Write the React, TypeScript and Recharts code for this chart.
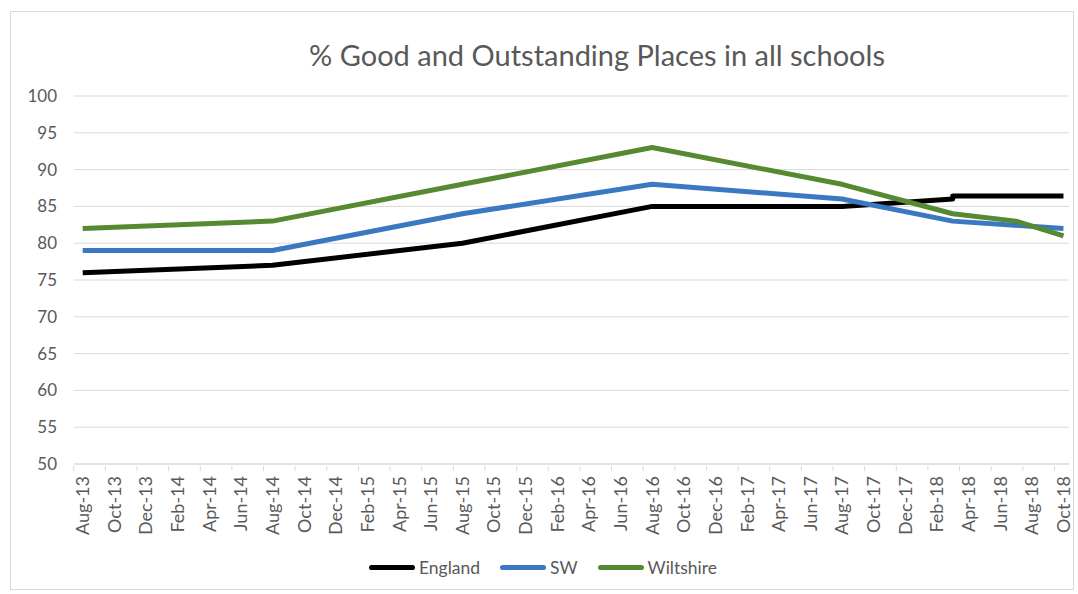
import { LineChart, Line, XAxis, YAxis, CartesianGrid } from 'recharts';

const MONTHS = ['Jan', 'Feb', 'Mar', 'Apr', 'May', 'Jun', 'Jul', 'Aug', 'Sep', 'Oct', 'Nov', 'Dec'];

// x-axis labels, every second month
const tickLabels = [
  'Aug-13', 'Oct-13', 'Dec-13', 'Feb-14', 'Apr-14', 'Jun-14', 'Aug-14', 'Oct-14',
  'Dec-14', 'Feb-15', 'Apr-15', 'Jun-15', 'Aug-15', 'Oct-15', 'Dec-15', 'Feb-16',
  'Apr-16', 'Jun-16', 'Aug-16', 'Oct-16', 'Dec-16', 'Feb-17', 'Apr-17', 'Jun-17',
  'Aug-17', 'Oct-17', 'Dec-17', 'Feb-18', 'Apr-18', 'Jun-18', 'Aug-18', 'Oct-18',
];
const yTicks = [50, 55, 60, 65, 70, 75, 80, 85, 90, 95, 100];

const englandDates = ['Aug-13', 'Aug-14', 'Aug-15', 'Aug-16', 'Aug-17', 'Mar-18', 'Mar-18', 'Oct-18'];
const englandValues = [76, 77, 80, 85, 85, 86, 86.4, 86.4];

const swDates = ['Aug-13', 'Aug-14', 'Aug-15', 'Aug-16', 'Aug-17', 'Mar-18', 'Oct-18'];
const swValues = [79, 79, 84, 88, 86, 83, 82];

const wiltsDates = ['Aug-13', 'Aug-14', 'Aug-15', 'Aug-16', 'Aug-17', 'Mar-18', 'Jul-18', 'Oct-18'];
const wiltsValues = [82, 83, 88, 93, 88, 84, 83, 81];

// months since Aug-13
function monthIndex(label: string) {
  const [mon, yy] = label.split('-');
  return (Number(yy) - 13) * 12 + MONTHS.indexOf(mon) - 7;
}

const toPoints = (dates: string[], values: number[]) =>
  dates.map((d, i) => ({ m: monthIndex(d), value: values[i] }));

const series = [
  { name: 'England', color: '#000000', data: toPoints(englandDates, englandValues) },
  { name: 'SW', color: '#3a78c2', data: toPoints(swDates, swValues) },
  { name: 'Wiltshire', color: '#558a33', data: toPoints(wiltsDates, wiltsValues) },
];

const FONT = 'Lato, "Open Sans", sans-serif';
const GREY = '#595959';

const MonthTick = (props: any) => {
  const { x, y, payload } = props;
  return (
    <g transform={`translate(${x},${y})`}>
      <line x1={-9} y1={0} x2={-9} y2={5} stroke="#d9d9d9" />
      <text
        transform="rotate(-90)"
        x={-10}
        y={0}
        dy="0.36em"
        textAnchor="end"
        fill={GREY}
        fontSize={18}
        fontFamily={FONT}
      >
        {tickLabels[tickLabels.map(monthIndex).indexOf(payload.value)]}
      </text>
    </g>
  );
};

export default function App() {
  return (
    <div style={{ position: 'absolute', left: 0, top: 0, width: 1078, height: 594, background: '#fff' }}>
      <div
        style={{
          position: 'absolute', left: 10, top: 11, width: 1064, height: 579,
          border: '1px solid #d9d9d9', boxSizing: 'border-box',
        }}
      />
      <div
        style={{
          position: 'absolute', left: 0, top: 37, width: 1194, textAlign: 'center',
          fontFamily: FONT, fontSize: 29, color: GREY, whiteSpace: 'nowrap',
        }}
      >
        % Good and Outstanding Places in all schools
      </div>
      <div style={{ position: 'absolute', left: 0, top: 0 }}>
        <LineChart width={1078} height={594} margin={{ top: 96, right: 9, bottom: 50, left: 14 }}>
          <CartesianGrid vertical={false} stroke="#d9d9d9" />
          <XAxis
            type="number"
            dataKey="m"
            domain={[-0.55, 62.35]}
            ticks={tickLabels.map(monthIndex)}
            interval={0}
            tick={<MonthTick />}
            tickLine={false}
            tickSize={0}
            axisLine={{ stroke: '#d9d9d9' }}
            height={80}
            allowDataOverflow
          />
          <YAxis
            type="number"
            domain={[50, 100]}
            ticks={yTicks}
            axisLine={false}
            tickLine={false}
            tickSize={0}
            tickMargin={17}
            width={60}
            tick={{ fill: GREY, fontSize: 17, fontFamily: FONT }}
          />
          {series.map((s) => (
            <Line
              key={s.name}
              data={s.data}
              dataKey="value"
              name={s.name}
              type="linear"
              stroke={s.color}
              strokeWidth={5}
              strokeLinejoin="round"
              dot={false}
              activeDot={false}
              isAnimationActive={false}
            />
          ))}
        </LineChart>
      </div>
      <div
        style={{
          position: 'absolute', left: 0, top: 557, width: 1086, display: 'flex',
          justifyContent: 'center', gap: 20, fontFamily: FONT, fontSize: 17.5, color: GREY,
        }}
      >
        {series.map((s) => (
          <div key={s.name} style={{ display: 'flex', alignItems: 'center' }}>
            <span
              style={{
                display: 'inline-block', width: 46, height: 5, borderRadius: 3,
                background: s.color, marginRight: 4,
              }}
            />
            <span>{s.name}</span>
          </div>
        ))}
      </div>
    </div>
  );
}
